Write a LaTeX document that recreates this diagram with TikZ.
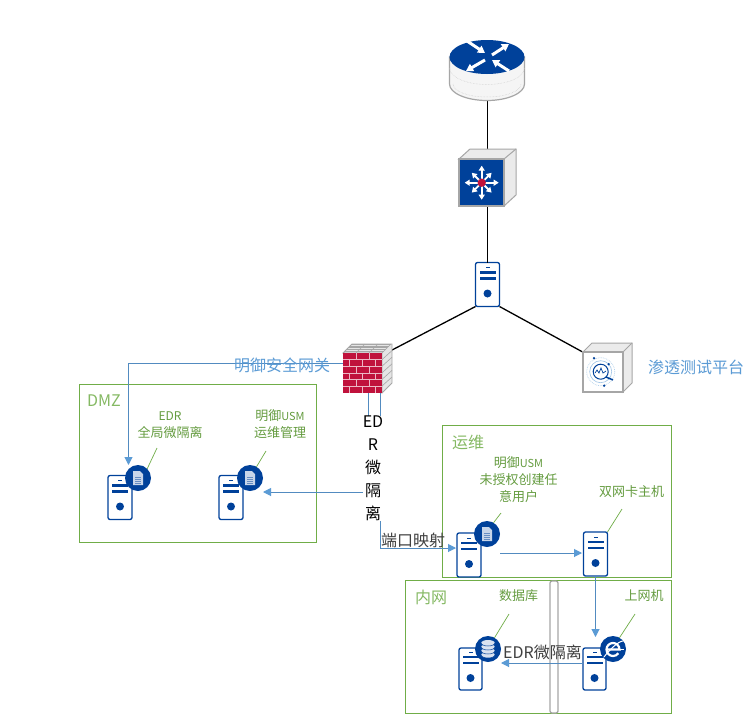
\documentclass[tikz,border=0pt]{standalone}
\usepackage{fontspec}
\setmainfont{Noto Sans CJK SC}
\usetikzlibrary{arrows.meta,calc}
\definecolor{usmblue}{HTML}{00419A}
\definecolor{linkblue}{HTML}{5B9BD5}
\definecolor{zonegreen}{HTML}{70AD47}
\definecolor{wallred}{HTML}{C0123C}
\definecolor{edgegray}{HTML}{A6A6A6}
\definecolor{darktext}{HTML}{404040}
\tikzset{
  base/.style={inner sep=0pt,outer sep=0mm,align=center},
  zone/.style={draw=zonegreen, line width=1pt, base},
  zonetitle/.style={base, text=zonegreen!85, font=\fontsize{16}{18}\selectfont},
  note/.style={base, text=zonegreen!90!black, font=\fontsize{13}{17}\selectfont},
  bluetext/.style={base, text=linkblue, font=\fontsize{16}{18}\selectfont},
  darklabel/.style={base, text=darktext, font=\fontsize{16}{18}\selectfont},
  leader/.style={draw=zonegreen, line width=0.7pt},
  wire/.style={draw=black, line width=1.3pt},
  arrow/.style={draw=linkblue!90!black, line width=1pt, -{Triangle[length=8pt,width=8pt,color=linkblue]}},
  badge/.style={circle, fill=usmblue, minimum size=26pt, base},
  srv/.style={base, draw=usmblue, fill=white, rounded corners=2pt, line width=1.3pt,
    minimum width=24pt, minimum height=44pt,
    path picture={
      \begin{scope}[sharp corners, shift={(path picture bounding box.center)}]
        \fill[usmblue] (-2,-17.5) rectangle (2,-16.5);
        \fill[usmblue] (-8,-13.5) rectangle (8,-11);
        \fill[usmblue] (-8,-7.5) rectangle (8,-5);
        \fill[usmblue] (0,9) circle (4);
      \end{scope}
    }},
  docicon/.pic={
    \fill[white!78!usmblue] (-5,-7) -- (2,-7) -- (5,-4) -- (5,7) -- (-5,7) -- cycle;
    \foreach \ly in {-1,1,3,5} \draw[usmblue!60, line width=0.7pt] (-3,\ly) -- (3,\ly);
  },
  dbicon/.pic={
    \foreach \ly in {6,2,-2,-6} {
      \fill[white!85!usmblue] (0,\ly) ellipse (6.8 and 3);
      \draw[usmblue, line width=0.5pt] (-6.8,\ly) arc (180:0:6.8 and 3);
    }
  },
  ieicon/.pic={
    \draw[white, line width=2.2pt] (-6,0.5) -- (6.5,0.5) arc (0:-325:6.5);
    \draw[white, line width=1pt] (-9,8) .. controls (-3,0) and (6,-8) .. (10,-8);
    \draw[white, line width=1pt] (6.5,0.5) -- (11,0.5);
  }
}

\begin{document}
\begin{tikzpicture}[x=1pt,y=-1pt]
  \path[fill=white,use as bounding box] (0,0) rectangle (753,726);

  % zones
  \node[zone, minimum width=237pt, minimum height=158pt] (dmz) at (197.5,463) {};
  \node[zone, minimum width=229pt, minimum height=152pt] (ops) at (556.5,501) {};
  \node[zone, minimum width=266pt, minimum height=133pt] (lan) at (538,646.5) {};
  \node[base, draw=edgegray, fill=white, line width=1.3pt, rounded corners=2pt, minimum width=8pt, minimum height=132pt] (bar) at (554,647) {};

  % top devices
  \node[base, minimum width=75pt, minimum height=60pt] (router) at (487.5,71) {};
  \node[base, minimum width=57pt, minimum height=57pt] (switch) at (487.5,177.5) {};
  \node[srv] (gwsrv) at (487.5,284.5) {};
  \node[base, minimum width=49pt, minimum height=49pt] (fwall) at (367.5,368.5) {};
  \node[base, minimum width=49pt, minimum height=49pt] (pent) at (607.5,367.5) {};

  \draw[wire] (router.south) -- (switch.north);
  \draw[wire] (switch.south) -- (gwsrv.north);
  \draw[wire] (gwsrv.south west) -- (fwall.37);
  \draw[wire] (gwsrv.south east) -- (pent.148);

  % router
  \draw[edgegray, line width=1.2pt, fill=white!96!black] (449.5,57) -- (449.5,84) arc (180:0:37.5 and 16.5) -- (524.5,57) -- cycle;
  \draw[edgegray!60, densely dotted, line width=0.5pt] (449.5,68) arc (180:0:37.5 and 16.5);
  \draw[edgegray!60, densely dotted, line width=0.5pt] (453,84) arc (180:0:34 and 13);
  \fill[usmblue] (487,57) ellipse (37.5 and 17);
  \foreach \xa/\ya/\xb/\yb in {-20/-16/-2/-4, 5/-2/22/-13, -2/3/-21/14, 22/14/5/3}
    \draw[white, line width=3pt, -{Triangle[length=7pt,width=8pt]}] (487+\xa,57+\ya) -- (487+\xb,57+\yb);

  % switch
  \draw[edgegray, line width=1pt, fill=white!92!black] (459,159) -- (470,149) -- (516,149) -- (516,195) -- (504,206) -- (504,159) -- cycle;
  \draw[edgegray, line width=1pt] (504,159) -- (516,149);
  \draw[edgegray, line width=1.2pt, fill=usmblue] (459,159) rectangle (504,206);
  \foreach \a/\l in {0/17,45/14,90/17,135/14,180/17,225/14,270/17,315/14}
    \draw[white, line width=1.8pt, -{Triangle[length=5pt,width=6pt]}] (481.7,182.7) -- ++(\a:\l);
  \fill[wallred] (481.7,182.7) circle (4.2);

  % firewall
  \draw[edgegray, line width=0.8pt, fill=white!90!black] (343,353) -- (352,344) -- (392,344) -- (392,383) -- (382,393) -- (382,353) -- cycle;
  \foreach \k in {1,2,3,4,5} {
    \draw[edgegray, line width=0.6pt] (382,353+6.6*\k) -- (392,344+6.6*\k);
    \draw[edgegray, line width=0.6pt] (343+1.8*\k,353-1.8*\k) -- (382+1.8*\k,353-1.8*\k);
  }
  \foreach \k in {1,2,3}
    \draw[edgegray, line width=0.6pt] (343+13*\k,353) -- (352+13*\k,344);
  \fill[wallred] (343,353) rectangle (382,393);
  \foreach \k in {1,2,3,4,5}
    \draw[white!70!wallred, line width=0.8pt] (343,353+6.66*\k) -- (382,353+6.66*\k);
  \foreach \r in {0,2,4} \foreach \c in {13,26}
    \draw[white!70!wallred, line width=0.8pt] (343+\c,353+6.66*\r) -- ++(0,6.66);
  \foreach \r in {1,3,5} \foreach \c in {6,19,32}
    \draw[white!70!wallred, line width=0.8pt] (343+\c,353+6.66*\r) -- ++(0,6.66);

  % test platform
  \draw[edgegray, line width=1pt, fill=white!92!black] (583,352) -- (592,343) -- (632,343) -- (632,383) -- (623,392) -- (623,352) -- cycle;
  \draw[edgegray, line width=1pt] (623,352) -- (632,343);
  \draw[edgegray, line width=1.2pt, fill=white] (583,352) rectangle (623,392);
  \draw[linkblue!45, densely dotted, line width=0.7pt] (600.7,371.7) circle (14);
  \draw[linkblue!60, line width=0.6pt] (600.7,371.7) circle (11);
  \draw[usmblue, line width=1pt] (600.7,371.7) circle (7.5);
  \draw[usmblue, line width=1.5pt] (606,377) -- (613,380);
  \draw[usmblue, line width=0.7pt] (595,373) -- (597,370) -- (599,373) -- (601,368) -- (603,373) -- (606,371);
  \foreach \dx/\dy in {-6.7/-13.5,8/-7.5,3.5/14}
    \fill[usmblue] (600.7+\dx,371.7+\dy) circle (1.3);

  % servers
  \node[srv] (edrsrv) at (120,497.5) {};
  \node[srv] (usmsrv) at (231,497.5) {};
  \node[srv] (jumpsrv) at (469,555) {};
  \node[srv] (dualsrv) at (595.5,554) {};
  \node[srv, minimum width=23pt, minimum height=42pt] (dbsrv) at (470.5,669) {};
  \node[srv, minimum width=23pt, minimum height=42pt] (netsrv) at (594.5,669) {};

  % badges
  \node[badge] (edrbadge) at (138,478) {};
  \node[badge] (usmbadge) at (250,478) {};
  \node[badge] (jumpbadge) at (487,534) {};
  \node[badge] (dbbadge) at (488,649) {};
  \node[badge] (iebadge) at (613,649) {};
  \pic at (edrbadge) {docicon};
  \pic at (usmbadge) {docicon};
  \pic at (jumpbadge) {docicon};
  \pic at (dbbadge) {dbicon};
  \pic at (iebadge) {ieicon};

  % blue links
  \coordinate (gwbend) at (128.5,363);
  \coordinate (gwend) at (128.5,465);
  \coordinate (fwleft) at (368,393);
  \coordinate (fwright) at (380.5,393);
  \coordinate (usmbend) at (368,492);
  \coordinate (usmend) at (263,492);
  \coordinate (jumpbend) at (380.5,548);
  \coordinate (jumpend) at (456,548);
  \coordinate (opsstart) at (500,553);
  \coordinate (opsend) at (582,553);
  \coordinate (dualend) at (595.5,637);
  \coordinate (lanstart) at (583,663);
  \coordinate (lanend) at (501,663);

  \draw[arrow] (fwall.west |- gwbend) -- (gwbend) -- (gwend);
  \draw[arrow] (fwleft) -- (usmbend) -- (usmend);
  \draw[arrow] (fwright) -- (jumpbend) -- (jumpend);
  \draw[arrow] (opsstart) -- (opsend);
  \draw[arrow] (dualsrv.south) -- (dualend);
  \draw[arrow] (lanstart) -- (lanend);

  % leaders
  \draw[leader] (edrbadge.45) -- (157,448);
  \draw[leader] (usmbadge.60) -- (266,451);
  \draw[leader] (jumpbadge.60) -- (501,513);
  \draw[leader] (dualsrv.north east) -- (622,509);
  \draw[leader] (dbbadge.60) -- (509,614);
  \draw[leader] (iebadge.60) -- (635,614);

  % texts
  \node[zonetitle] (dmztitle) at (104,401) {DMZ};
  \node[zonetitle] (opstitle) at (468,442) {运维};
  \node[zonetitle] (lantitle) at (431,597) {内网};
  \node[bluetext] (gwtext) at (282,365) {明御安全网关};
  \node[bluetext] (penttext) at (696,367) {渗透测试平台};
  \node[note] (edrtext) at (170,425) {{\fontsize{12}{17}\selectfont EDR}\\全局微隔离};
  \node[note] (usmtext) at (280,424.5) {明御{\fontsize{11}{17}\selectfont USM}\\运维管理};
  \node[note] (jumptext) at (518.5,480) {明御{\fontsize{11}{17}\selectfont USM}\\未授权创建任\\意用户};
  \node[note] (dualtext) at (631.5,492) {双网卡主机};
  \node[note] (dbtext) at (518.5,596) {数据库};
  \node[note] (nettext) at (644,596) {上网机};
  \node[base, fill=white, text=black, minimum width=17pt, font=\fontsize{16}{23}\selectfont] (edrvert) at (373,468) {ED\\R\\微\\隔\\离};
  \node[darklabel] (porttext) at (413,540) {端口映射};
  \node[darklabel] (lantext) at (542.5,652) {EDR微隔离};
\end{tikzpicture}
\end{document}
